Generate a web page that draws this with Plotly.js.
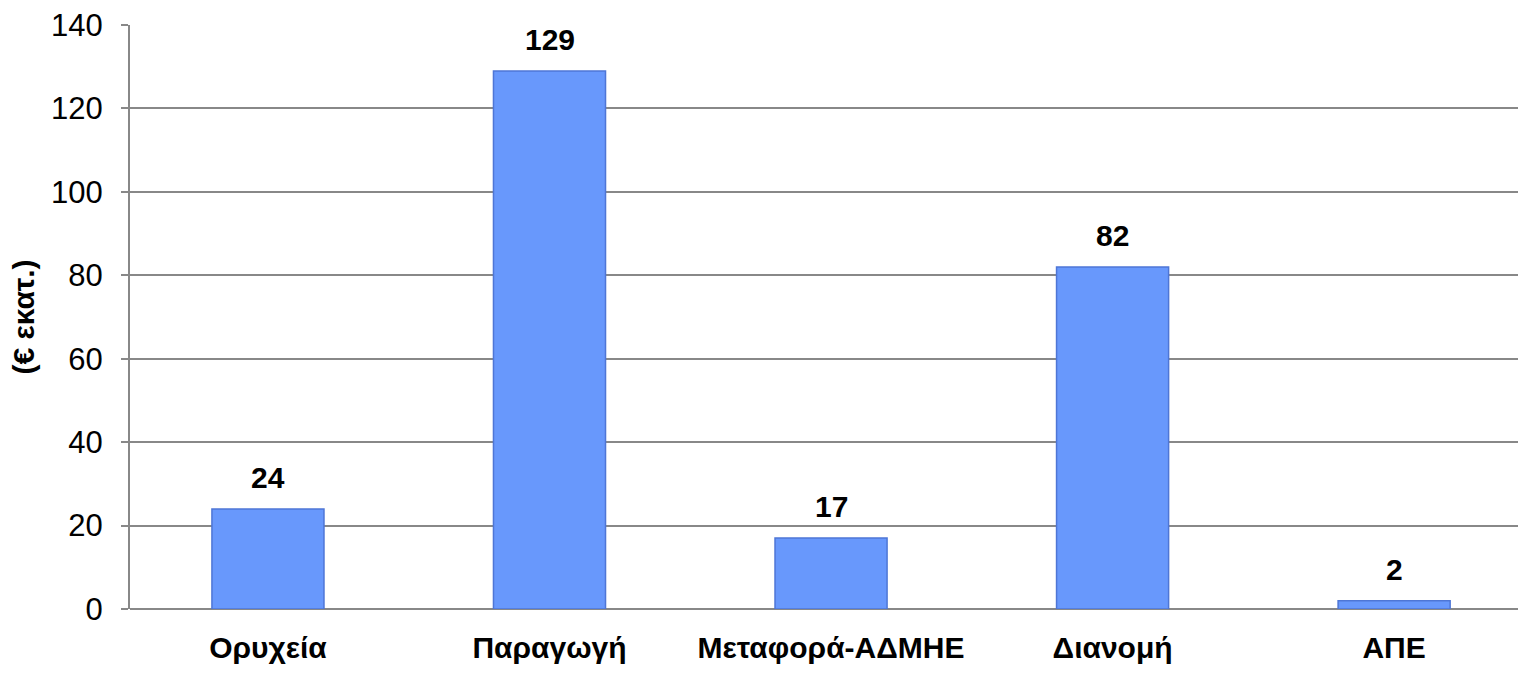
<!DOCTYPE html>
<html>
<head>
<meta charset="utf-8">
<script src="https://cdn.plot.ly/plotly-3.0.1.min.js"></script>
<style>html,body{margin:0;padding:0;background:#fff;}#chart{width:1518px;height:675px;}</style>
</head>
<body>
<div id="chart"></div>
<script>
const categories = ["Ορυχεία", "Παραγωγή", "Μεταφορά-ΑΔΜΗΕ", "Διανομή", "ΑΠΕ"];
const values = [24, 129, 17, 82, 2];
const valueLabels = ["24", "129", "17", "82", "2"];
const yTickValues = [0, 20, 40, 60, 80, 100, 120, 140];

const FONT = "'Liberation Sans', Arial, sans-serif";

const trace = {
  type: "bar",
  x: categories.map((c, i) => i),
  y: values,
  marker: {
    color: "rgb(104,152,252)",
    line: { color: "rgb(78,118,214)", width: 1.5 }
  },
  hoverinfo: "x+y"
};

const annotations = values.map((v, i) => ({
  x: i, y: v, xref: "x", yref: "y",
  text: "<b>" + valueLabels[i] + "</b>",
  showarrow: false, yanchor: "bottom", yshift: 13,
  font: { family: FONT, size: 30, color: "#000" }
}));

const layout = {
  width: 1518, height: 675,
  margin: { l: 130, r: 0, t: 25, b: 66, pad: 0 },
  paper_bgcolor: "#fff", plot_bgcolor: "#fff",
  bargap: 0.602,
  showlegend: false,
  font: { family: FONT, color: "#000" },
  xaxis: {
    tickmode: "array",
    tickvals: categories.map((c, i) => i),
    ticktext: categories.map(c => "<b>" + c + "</b>"),
    range: [-0.49, 4.44],
    showgrid: false, zeroline: false,
    showline: false, ticks: "",
    ticklabelstandoff: 18,
    tickfont: { family: FONT, size: 30, color: "#000" },
    fixedrange: true
  },
  yaxis: {
    range: [0, 140],
    tickmode: "array",
    tickvals: yTickValues,
    ticktext: yTickValues.map(String),
    showgrid: true, gridcolor: "#888888", gridwidth: 2,
    zeroline: true, zerolinecolor: "#888888", zerolinewidth: 2,
    showline: true, linecolor: "#888888", linewidth: 2,
    ticks: "outside", ticklen: 7, tickcolor: "#888888", tickwidth: 2,
    ticklabelstandoff: 12,
    tickfont: { family: FONT, size: 31, color: "#000" },
    title: { text: "<b>(€ εκατ.)</b>", standoff: 8, font: { family: FONT, size: 30, color: "#000" } },
    automargin: false,
    fixedrange: true
  },
  annotations: annotations
};

Plotly.newPlot("chart", [trace], layout, { displayModeBar: false, staticPlot: true });
</script>
</body>
</html>
